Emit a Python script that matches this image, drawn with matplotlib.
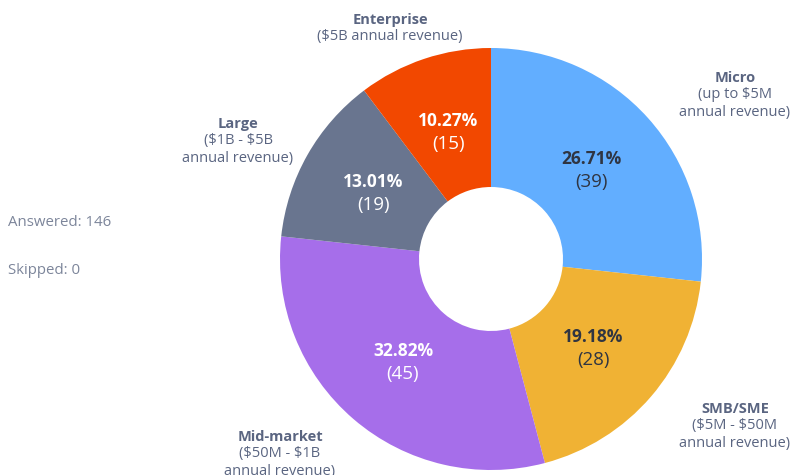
import numpy as np
import matplotlib.pyplot as plt

plt.rcParams['font.family'] = ['Open Sans', 'DejaVu Sans']

# data (clockwise from top)
names = ["Micro", "SMB/SME", "Mid-market", "Large", "Enterprise"]
subs = ["(up to \\$5M\nannual revenue)", "(\\$5M - \\$50M\nannual revenue)",
        "(\\$50M - \\$1B\nannual revenue)", "(\\$1B - \\$5B\nannual revenue)",
        "(\\$5B annual revenue)"]
counts = [39, 28, 45, 19, 15]
pct_labels = ["26.71%", "19.18%", "32.82%", "13.01%", "10.27%"]
colors = ["#62AEFF", "#F0B234", "#A66EEA", "#69758F", "#F24800"]
pct_colors = ["#2F3542", "#2F3542", "white", "white", "white"]

W, H = 798, 475
fig = plt.figure(figsize=(W / 100, H / 100), dpi=100)
ax = fig.add_axes([0, 0, 1, 1])

cx, cy, R = 491, H - 259, 211
wedges, _ = ax.pie(counts, colors=colors, startangle=90, counterclock=False,
                   center=(cx, cy), radius=R, frame=True,
                   wedgeprops=dict(width=R - 72, linewidth=0))
ax.set_xlim(0, W)
ax.set_ylim(0, H)
ax.set_aspect('equal')
ax.axis('off')

# inner labels
for w, p, c, col in zip(wedges, pct_labels, counts, pct_colors):
    ang = np.deg2rad((w.theta1 + w.theta2) / 2)
    x = cx + 0.64 * R * np.cos(ang)
    y = cy + 0.64 * R * np.sin(ang)
    ax.text(x, y + 10, p, ha='center', va='center', fontsize=12.5,
            fontweight='bold', color=col)
    ax.text(x, y - 13, "(%d)" % c, ha='center', va='center', fontsize=13.5,
            color=col)

# outer labels (pixel positions of label tops)
label_pos = [(735, 78), (735, 409), (280, 437), (238, 124), (390, 20)]
for (lx, ly), n, s in zip(label_pos, names, subs):
    ax.text(lx, H - ly, n, ha='center', va='center', fontsize=10.5,
            fontweight='bold', color="#5A6581")
    ax.text(lx, H - ly - 9, s, ha='center', va='top', fontsize=10.5,
            color="#5A6581", linespacing=1.25)

ax.text(8, H - 222, "Answered: 146", ha='left', va='center', fontsize=10.8,
        color="#7C859A")
ax.text(8, H - 271, "Skipped: 0", ha='left', va='center', fontsize=10.8,
        color="#7C859A")

fig.savefig("out.png", dpi=100)
